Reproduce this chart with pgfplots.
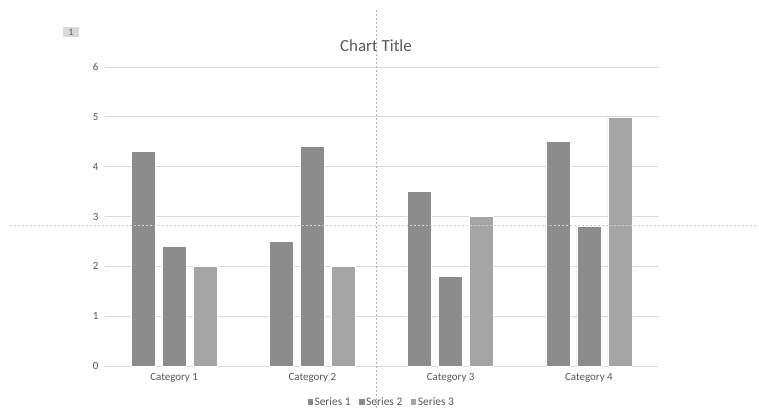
\documentclass[border=0pt]{standalone}
\usepackage{fontspec}
\setmainfont{Carlito}
\usepackage{pgfplots}
\pgfplotsset{compat=1.18}
\definecolor{barA}{HTML}{8C8C8C}
\definecolor{barC}{HTML}{A5A5A5}
\definecolor{gridc}{HTML}{D9D9D9}
\definecolor{txt}{HTML}{595959}
\begin{document}
\begin{tikzpicture}[x=1bp,y=1bp]
\useasboundingbox (0,0) rectangle (759,408);
\fill[white] (0,0) rectangle (759,408);
\begin{axis}[
  at={(105bp,42bp)}, anchor=south west,
  scale only axis, width=553bp, height=299bp,
  xmin=0.5, xmax=4.5, ymin=0, ymax=6,
  xtick={1,2,3,4},
  xticklabels={Category 1,Category 2,Category 3,Category 4},
  ytick={0,1,2,3,4,5,6},
  ymajorgrids, grid style={gridc, line width=0.75bp},
  axis y line*=left, y axis line style={draw=none},
  axis x line*=bottom, x axis line style={gridc, line width=0.75bp},
  major tick length=0pt,
  tick label style={font=\fontsize{11}{12}\selectfont, text=txt},
  /pgf/number format/assume math mode=true,
  yticklabel style={xshift=-3bp},
  xticklabel style={yshift=-4bp},
  ybar, bar width=24bp,
  legend style={at={(axis description cs:0.5,-0.121)}, anchor=center, draw=none,
    font=\fontsize{11.5}{13}\selectfont, text=txt, legend columns=-1,
    /tikz/every even column/.append style={column sep=7bp},
    nodes={inner xsep=1.5bp}},
  legend image code/.code={\fill[#1,draw=none] (0bp,-2.75bp) rectangle (5.5bp,2.75bp);},
]
\addplot[fill=barA, draw=white, line width=0.6bp, bar shift=-31bp] coordinates {(1,4.3) (2,2.5) (3,3.5) (4,4.5)};
\addplot[fill=barA, draw=white, line width=0.6bp, bar shift=0bp] coordinates {(1,2.4) (2,4.4) (3,1.8) (4,2.8)};
\addplot[fill=barC, draw=white, line width=0.6bp, bar shift=31bp] coordinates {(1,2) (2,2) (3,3) (4,5)};
\legend{Series 1,Series 2,Series 3}
\end{axis}
\node[text=txt, font=\fontsize{17}{19}\selectfont] at (376,362) {Chart Title};
\fill[gridc] (63,371) rectangle (79,381);
\node[text=txt, font=\fontsize{10}{11}\selectfont] at (71,376) {1};
\draw[gray!60, dash pattern=on 2bp off 2bp, line width=0.6bp] (376,0) -- (376,400);
\draw[gray!40, dash pattern=on 2bp off 2bp, line width=0.8bp] (10,183) -- (759,183);
\end{tikzpicture}
\end{document}
